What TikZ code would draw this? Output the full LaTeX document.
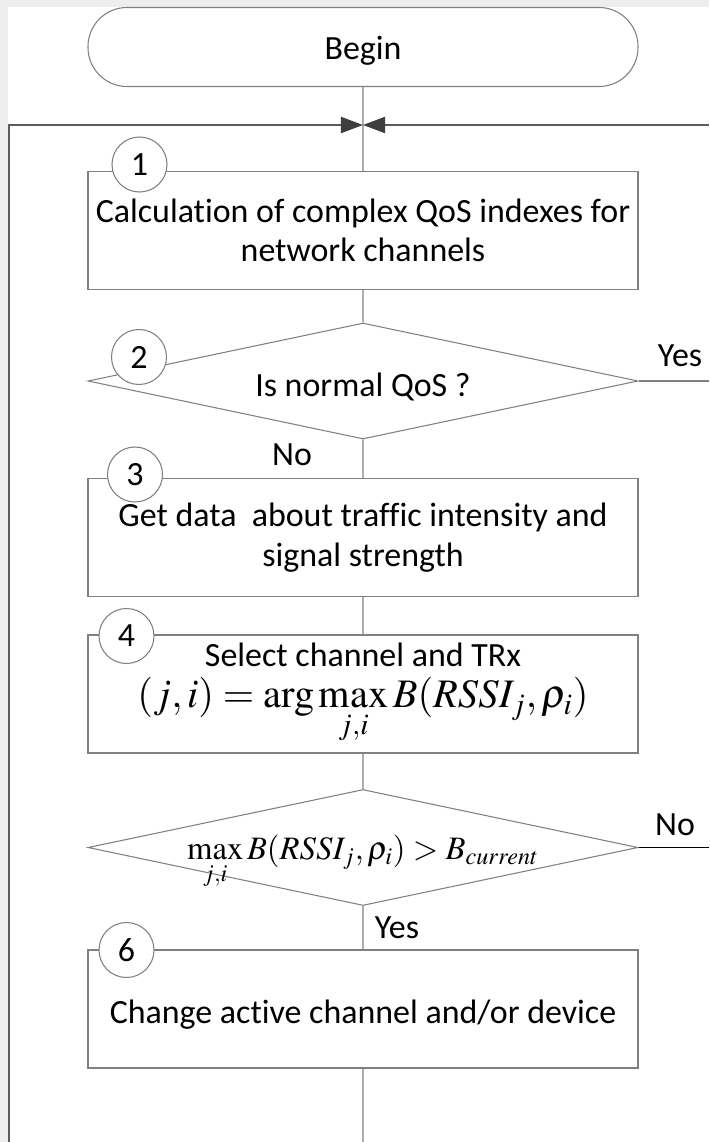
\documentclass[tikz,border=0pt]{standalone}
\usepackage{amsmath}
\usepackage{mathptmx}
\usepackage[no-math]{fontspec}
\setmainfont{Carlito}[Ligatures=NoCommon]
\usetikzlibrary{shapes.geometric,arrows.meta}

\definecolor{edgegray}{RGB}{128,128,128}
\definecolor{loopgray}{RGB}{92,92,92}
\definecolor{tipgray}{RGB}{62,62,62}
\definecolor{pagegray}{RGB}{238,238,238}

\begin{document}
\begin{tikzpicture}[scale=0.2]
		\tikzstyle{every node}+=[font=\fontsize{19.3}{22.5}\selectfont]
		\tikzstyle{terminal}=[draw=edgegray, line width=0.6pt, rounded corners=0.78cm, minimum width=11cm, minimum height=1.58cm, inner sep=0pt]
		\tikzstyle{stepbox}=[draw=edgegray, line width=0.6pt, fill=white, minimum width=11cm, minimum height=2.36cm, inner sep=0pt, align=center]
		\tikzstyle{decision}=[diamond, aspect=4.74, draw=edgegray, line width=0.6pt, minimum width=11cm, minimum height=2.32cm, inner sep=0pt, align=center]
		\tikzstyle{numcirc}=[circle, draw=edgegray, line width=0.6pt, fill=white, minimum size=1.1cm, inner sep=0pt]
		\tikzstyle{flow}=[draw=edgegray, line width=0.6pt]
		\tikzstyle{loopline}=[draw=loopgray, line width=1.1pt]
		\tikzstyle{meet}=[-{Triangle[length=0.44cm,width=0.32cm,color=tipgray]}]
		% page
		\useasboundingbox (0,0) rectangle (70.9,-114.2);
		\fill [pagegray] (0,0) rectangle (70.9,-114.2);
		\fill [white] (0.8,-0.7) rectangle (70.9,-114.2);
		% blocks
		\node [terminal, text height=0.6cm] (begin) at (36.3,-4.7) {Begin};
		\node [stepbox] (calc) at (36.3,-23.05) {Calculation of complex QoS indexes for\\network channels};
		\node [decision, text height=0.72cm] (qos) at (36.3,-38.1) {Is normal QoS ?};
		\node [stepbox] (getdata) at (36.3,-53.75) {Get data~ about traffic intensity and\\signal strength};
		\node [stepbox] (select) at (36.3,-69.4) {Select channel and TRx\\[1pt]
			{\fontsize{23}{27}\selectfont$(j,i)=\arg\max\limits_{j,i} B(RSSI_j,\rho_i)$}};
		\node [decision] (better) at (36.3,-84.75) {{\fontsize{18.6}{22}\selectfont$\smash[b]{\max\limits_{j,i} B(RSSI_j,\rho_i)>B_{current}}$}};
		\node [stepbox, text height=0.71cm] (change) at (36.3,-100.9) {Change active channel and/or device};
		% step numbers
		\node [numcirc] (n1) at (13.95,-16.45) {1};
		\node [numcirc] (n2) at (13.9,-35.7) {2};
		\node [numcirc] (n3) at (13.5,-47.45) {3};
		\node [numcirc] (n4) at (12.65,-63.6) {4};
		\node [numcirc] (n6) at (12.65,-95.0) {6};
		% free ends
		\coordinate (join) at (36.3,-12.5);
		\coordinate (looptop) at (0.9,-12.5);
		\coordinate (loopbot) at (0.9,-114.2);
		\coordinate (backin) at (70.9,-12.5);
		\coordinate (yesout) at (70.9,-38.1);
		\coordinate (noout) at (70.9,-84.75);
		\coordinate (down) at (36.3,-114.2);
		% connectors
		\draw [flow] (begin) -- (calc);
		\draw [flow] (calc) -- (qos);
		\draw [flow] (qos) -- (getdata);
		\draw [flow] (getdata) -- (select);
		\draw [flow] (select) -- (better);
		\draw [flow] (better) -- (change);
		\draw [flow] (change) -- (down);
		\draw [flow] (qos.east) -- (yesout);
		\draw [black, line width=1.1pt] (better.east) -- (noout);
		\draw [loopline, meet] (loopbot) -- (looptop) -- (join);
		\draw [loopline, meet] (backin) -- (join);
		% branch labels
		\node (yes2) at (68.0,-35.6) {Yes};
		\node (no2) at (29.2,-45.5) {No};
		\node (no5) at (67.5,-82.5) {No};
		\node (yes5) at (39.7,-92.8) {Yes};
	\end{tikzpicture}
\end{document}
